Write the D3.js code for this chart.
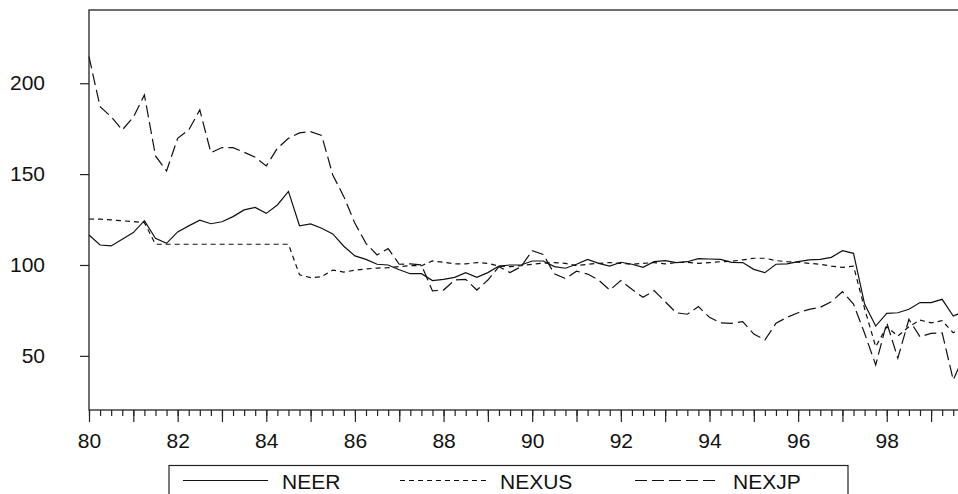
<!DOCTYPE html>
<html>
<head>
<meta charset="utf-8">
<script src="https://cdn.jsdelivr.net/npm/d3@7"></script>
<style>
  html, body { margin: 0; padding: 0; background: #fff; }
  svg { display: block; font-family: "Liberation Sans", Arial, sans-serif; }
</style>
</head>
<body>
<div id="chart"></div>
<script>
// quarterly, 1980Q1 .. 1999Q4
var startYear = 80
var seriesNames = ["NEER", "NEXUS", "NEXJP"]

var neer = [116.5, 111.0, 110.5, 114.1, 117.8, 124.4, 114.7, 111.9, 118.2, 121.5,
  124.6, 122.7, 123.8, 126.6, 130.3, 131.7, 128.4, 133.0, 140.5, 121.6,
  122.6, 120.2, 117.1, 110.3, 105.0, 103.1, 100.4, 100.0, 97.4, 95.2,
  95.2, 91.4, 92.1, 93.2, 95.8, 93.2, 95.8, 99.4, 100.0, 100.0,
  102.2, 102.2, 99.1, 98.2, 100.4, 103.1, 100.9, 99.4, 101.5, 100.4,
  98.7, 101.8, 102.4, 101.3, 101.8, 103.5, 103.3, 103.1, 101.4, 101.3,
  97.6, 95.8, 100.4, 100.6, 101.8, 102.8, 103.1, 104.2, 107.9, 106.4,
  78.5, 66.4, 73.4, 73.7, 75.6, 79.3, 79.3, 81.1, 71.9, 74.5]

var nexus = [125.3, 125.2, 124.8, 124.3, 123.9, 123.3, 111.4, 111.4, 111.4, 111.4,
  111.4, 111.4, 111.4, 111.4, 111.4, 111.4, 111.4, 111.4, 111.4, 94.6,
  93.0, 93.6, 97.2, 96.1, 97.1, 97.8, 98.3, 98.5, 99.1, 99.6,
  99.6, 102.2, 101.5, 100.6, 100.6, 101.3, 100.9, 99.4, 99.1, 99.6,
  100.4, 101.0, 101.3, 100.9, 99.6, 100.4, 100.9, 101.3, 100.9, 100.4,
  100.9, 101.3, 100.6, 101.3, 101.5, 100.9, 101.3, 101.8, 102.0, 102.8,
  103.7, 103.7, 102.4, 101.8, 101.5, 100.9, 100.4, 99.4, 98.7, 99.4,
  76.0, 55.0, 66.0, 60.9, 66.0, 69.7, 68.2, 69.3, 62.7, 66.0]

var nexjp = [214.6, 187.1, 181.6, 174.3, 181.3, 193.6, 160.0, 151.7, 169.7, 174.3,
  185.3, 161.8, 164.6, 164.6, 162.0, 159.3, 154.5, 164.2, 169.7, 172.7,
  173.4, 171.3, 149.5, 137.6, 122.9, 111.9, 105.5, 109.0, 100.4, 100.6,
  100.0, 85.7, 86.2, 91.7, 92.1, 86.2, 91.7, 99.1, 95.8, 99.1,
  107.9, 105.8, 95.1, 92.5, 96.6, 95.0, 91.7, 86.2, 91.4, 86.6,
  82.2, 85.9, 79.8, 73.7, 72.9, 77.1, 71.2, 68.2, 67.9, 68.8,
  62.0, 58.7, 67.9, 71.2, 73.7, 75.6, 76.7, 79.8, 85.3, 78.5,
  62.4, 45.0, 68.2, 48.7, 70.1, 60.5, 62.4, 62.7, 36.7, 50.5]

var yTicks = [50, 100, 150, 200]
var xLabels = [80, 82, 84, 86, 88, 90, 92, 94, 96, 98]

var width = 958, height = 494
var plotLeft = 89, plotTop = 10, plotBottom = 410

var periods = neer.map(function (d, i) { return startYear + i / 4 })

var x = d3.scaleLinear()
  .domain([startYear, startYear + 19.75])
  .range([plotLeft, plotLeft + 19.75 * 44.32])

var y = d3.scaleLinear()
  .domain([20.2, 240.3])
  .range([plotBottom, plotTop])

var svg = d3.select("#chart").append("svg")
  .attr("width", width)
  .attr("height", height)

// frame (right side runs off the picture)
svg.append("rect")
  .attr("x", plotLeft)
  .attr("y", plotTop)
  .attr("width", x.range()[1] + 20 - plotLeft)
  .attr("height", plotBottom - plotTop)
  .attr("fill", "none")
  .attr("stroke", "#222")
  .attr("stroke-width", 1.3)

// x axis: quarter ticks, year ticks, labels every 2 years
var quarters = d3.range(0, 80).map(function (i) { return startYear + i / 4 })
var years = d3.range(startYear, 100)

svg.append("g")
  .attr("transform", "translate(0," + plotBottom + ")")
  .call(d3.axisBottom(x).tickValues(quarters).tickSize(6).tickFormat(""))
  .call(function (g) { g.select(".domain").remove() })

svg.append("g")
  .attr("transform", "translate(0," + plotBottom + ")")
  .call(d3.axisBottom(x).tickValues(years).tickSize(12).tickPadding(11)
    .tickFormat(function (d) { return xLabels.indexOf(d) >= 0 ? d : "" }))
  .call(function (g) { g.select(".domain").remove() })

svg.append("g")
  .attr("transform", "translate(" + plotLeft + ",0)")
  .call(d3.axisLeft(y).tickValues(yTicks).tickSize(9).tickPadding(35))
  .call(function (g) { g.select(".domain").remove() })

svg.selectAll(".tick line").attr("stroke", "#222").attr("stroke-width", 1.2)
svg.selectAll(".tick text")
  .attr("fill", "#111")
  .style("font-size", "21px")
  .style("font-family", "'Liberation Sans', Arial, sans-serif")

// lines
var styles = {
  NEER: null,
  NEXUS: "5,4",
  NEXJP: "12,5"
}
var data = { NEER: neer, NEXUS: nexus, NEXJP: nexjp }

var line = d3.line()
  .x(function (d, i) { return x(periods[i]) })
  .y(function (d) { return y(d) })

seriesNames.forEach(function (name) {
  svg.append("path")
    .datum(data[name])
    .attr("d", line)
    .attr("fill", "none")
    .attr("stroke", "#111")
    .attr("stroke-width", 1.2)
    .attr("stroke-dasharray", styles[name])
})

// legend
var legend = svg.append("g")
legend.append("rect")
  .attr("x", 169)
  .attr("y", 465.5)
  .attr("width", 848 - 169)
  .attr("height", 60)
  .attr("fill", "none")
  .attr("stroke", "#222")
  .attr("stroke-width", 1.2)

var legendItems = [
  { name: "NEER", x1: 183, x2: 268, tx: 282 },
  { name: "NEXUS", x1: 400, x2: 486, tx: 500 },
  { name: "NEXJP", x1: 635, x2: 719, tx: 733 }
]
legendItems.forEach(function (d) {
  legend.append("line")
    .attr("x1", d.x1).attr("x2", d.x2)
    .attr("y1", 480.5).attr("y2", 480.5)
    .attr("stroke", "#111")
    .attr("stroke-width", 1.2)
    .attr("stroke-dasharray", styles[d.name])
  legend.append("text")
    .attr("x", d.tx)
    .attr("y", 489)
    .attr("fill", "#111")
    .style("font-size", "21px")
    .text(d.name)
})
</script>
</body>
</html>
